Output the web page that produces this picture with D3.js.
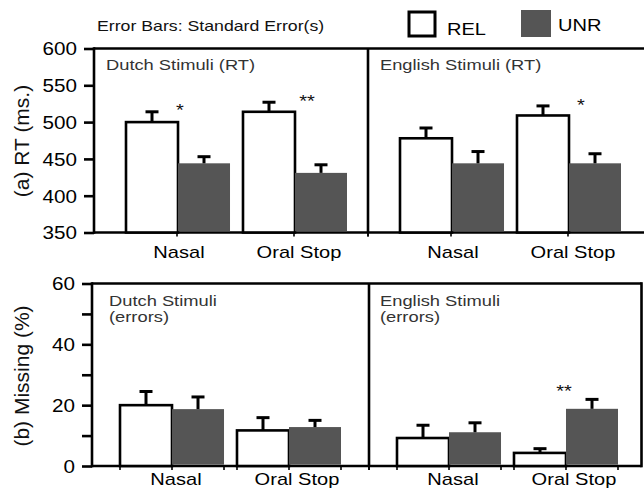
<!DOCTYPE html>
<html><head><meta charset="utf-8">
<script src="https://cdn.jsdelivr.net/npm/d3@7"></script>
<style>body{margin:0;background:#fff} svg{display:block} text{font-family:"Liberation Sans",Arial,Helvetica,sans-serif}</style>
</head><body><svg id="c" width="644" height="494"></svg>
<script>
// ---------- data ----------
const categories = ["Nasal", "Oral Stop"];
const conditions = ["REL", "UNR"];
const languages = ["Dutch", "English"];
const rtTicks = [350, 400, 450, 500, 550, 600];
const missTicks = [0, 10, 20, 30, 40, 50, 60];
const missLabelTicks = [0, 20, 40, 60];

const rtDutchREL = [500, 514],      rtDutchRELse = [14, 13];
const rtDutchUNR = [444, 431],      rtDutchUNRse = [9, 11];
const rtEnglishREL = [478, 509],    rtEnglishRELse = [14, 13];
const rtEnglishUNR = [444, 444],    rtEnglishUNRse = [16, 13];

const missDutchREL = [20, 11.7],    missDutchRELse = [4.5, 4.2];
const missDutchUNR = [18.7, 12.8],  missDutchUNRse = [4, 2.2];
const missEnglishREL = [9.2, 4.3],  missEnglishRELse = [4.2, 1.4];
const missEnglishUNR = [11.1, 18.8],missEnglishUNRse = [3.1, 3.1];

const sigLang  = ["Dutch", "Dutch", "English", "English"];
const sigRow   = ["rt", "rt", "rt", "miss"];
const sigCat   = ["Nasal", "Oral Stop", "Oral Stop", "Oral Stop"];
const sigLabel = ["*", "**", "*", "**"];

// ---------- layout ----------
const SX = 1.18;        // horizontal text stretch of the reference
const GREY = "#555";
const LW = 2.6;
const svg = d3.select("#c");

function stretch(sel, f) {
  const k = f || SX;
  sel.each(function () {
    const w = this.getComputedTextLength();
    this.setAttribute("textLength", w * k);
    this.setAttribute("lengthAdjust", "spacingAndGlyphs");
  });
  return sel;
}

const rows = {
  rt: {
    domain: [350, 600], yTop: 48.5, yBot: 232.5, left: 94, divider: 368, right: 650,
    barOff: 32, ticks: rtTicks, labelTicks: rtTicks, title: "(a) RT (ms.)", titleY: 141,
    panelTitles: ["Dutch Stimuli (RT)", "English Stimuli (RT)"], titleDx: [12, 12], titleY0: 70,
    titleSize: 15.5, titleLead: 15, titleSX: SX,
    catY: 258, catDx: [1, 4], sigGap: 5, frameRight: false, xTicks: "center",
    data: {
      Dutch:   {REL: [rtDutchREL, rtDutchRELse], UNR: [rtDutchUNR, rtDutchUNRse]},
      English: {REL: [rtEnglishREL, rtEnglishRELse], UNR: [rtEnglishUNR, rtEnglishUNRse]}
    }
  },
  miss: {
    domain: [0, 60], yTop: 283.5, yBot: 466, left: 92, divider: 369, right: 641.5,
    barOff: 28, ticks: missTicks, labelTicks: missLabelTicks, title: "(b) Missing (%)", titleY: 376,
    panelTitles: ["Dutch Stimuli\n(errors)", "English Stimuli\n(errors)"], titleDx: [17, 11], titleY0: 306,
    titleSize: 14.2, titleLead: 16.2, titleSX: 1.29,
    catY: 485, catDx: [4, 8], sigGap: 12, frameRight: true, xTicks: "edges",
    data: {
      Dutch:   {REL: [missDutchREL, missDutchRELse], UNR: [missDutchUNR, missDutchUNRse]},
      English: {REL: [missEnglishREL, missEnglishRELse], UNR: [missEnglishUNR, missEnglishUNRse]}
    }
  }
};
const sigDx = [2, 12, 12, -2];

Object.entries(rows).forEach(([key, R]) => {
  const y = d3.scaleLinear().domain(R.domain).range([R.yBot, R.yTop]);
  const g = svg.append("g");
  const panelLefts = [R.left, R.divider];

  // frame
  const fr = g.append("g").attr("stroke", "#000").attr("stroke-width", LW).attr("fill", "none");
  fr.append("line").attr("x1", R.left).attr("x2", R.right).attr("y1", R.yTop).attr("y2", R.yTop);
  fr.append("line").attr("x1", R.left).attr("x2", R.right).attr("y1", R.yBot).attr("y2", R.yBot);
  fr.append("line").attr("x1", R.divider).attr("x2", R.divider).attr("y1", R.yTop).attr("y2", R.yBot);
  if (R.frameRight) fr.append("line").attr("x1", R.right).attr("x2", R.right).attr("y1", R.yTop - LW/2).attr("y2", R.yBot + LW/2);

  // y axis
  const ax = g.append("g").attr("transform", `translate(${R.left},0)`)
    .call(d3.axisLeft(y).tickValues(R.ticks).tickSize(10).tickPadding(7)
      .tickFormat(d => R.labelTicks.includes(d) ? d : ""));
  ax.select(".domain").attr("stroke-width", LW).attr("d", `M0,${R.yTop - LW/2}V${R.yBot + LW/2}`);
  ax.selectAll(".tick line").attr("stroke-width", LW);
  ax.selectAll(".tick text").attr("font-size", 17.5).attr("fill", "#000")
    .attr("font-family", '"Liberation Sans",Arial,sans-serif').attr("dy", "0.36em");
  stretch(ax.selectAll(".tick text"));

  // y title
  g.append("text").attr("transform", `translate(29,${R.titleY}) rotate(-90)`)
    .attr("text-anchor", "middle").attr("font-size", 21).attr("fill", "#111").text(R.title);

  languages.forEach((lang, li) => {
    const pl = panelLefts[li];
    const x = d3.scaleBand().domain(categories).range([pl + R.barOff, pl + R.barOff + 221]).paddingInner(0.111);
    const xc = d3.scaleBand().domain(conditions).range([0, x.bandwidth()]);
    const D = R.data[lang];

    // x ticks
    const tg = g.append("g").attr("stroke", "#000").attr("stroke-width", 1.6);
    categories.forEach(c => {
      const xs = R.xTicks === "center" ? [x(c) + x.bandwidth()/2 - 1]
        : [x(c), x(c) + x.bandwidth()/2, x(c) + x.bandwidth()];
      xs.forEach(xx => tg.append("line").attr("x1", xx).attr("x2", xx).attr("y1", R.yBot).attr("y2", R.yBot + 4));
    });
    tg.append("line").attr("x1", R.divider).attr("x2", R.divider).attr("y1", R.yBot).attr("y2", R.yBot + 4);

    // bars
    categories.forEach((c, ci) => {
      conditions.forEach(cond => {
        const v = D[cond][0][ci];
        const bx = x(c) + xc(cond);
        if (cond === "REL") {
          g.append("rect").attr("x", bx).attr("y", y(v)).attr("width", xc.bandwidth()).attr("height", R.yBot - y(v))
            .attr("fill", "#fff").attr("stroke", "#000").attr("stroke-width", LW);
        } else {
          g.append("rect").attr("x", bx).attr("y", y(v)).attr("width", xc.bandwidth()).attr("height", R.yBot - y(v) - LW/2)
            .attr("fill", GREY);
        }
      });
      // error bars
      conditions.forEach(cond => {
        const v = D[cond][0][ci], se = D[cond][1][ci];
        const cx = x(c) + xc(cond) + xc.bandwidth()/2;
        const eg = g.append("g").attr("stroke", "#000").attr("stroke-width", 3);
        eg.append("line").attr("x1", cx).attr("x2", cx).attr("y1", y(v)).attr("y2", y(v + se));
        eg.append("line").attr("x1", cx - 6.5).attr("x2", cx + 6.5).attr("y1", y(v + se)).attr("y2", y(v + se));
      });
      // category label
      stretch(g.append("text").attr("x", x(c) + x.bandwidth()/2 + R.catDx[ci]).attr("y", R.catY)
        .attr("text-anchor", "middle").attr("font-size", 17).attr("fill", "#000").text(c));
    });

    // panel title
    const lines = R.panelTitles[li].split("\n");
    lines.forEach((t, k) => {
      stretch(g.append("text").attr("x", pl + R.titleDx[li]).attr("y", R.titleY0 + k * R.titleLead)
        .attr("font-size", R.titleSize).attr("fill", "#333").text(t), R.titleSX);
    });

    // significance
    sigLabel.forEach((s, si) => {
      if (sigLang[si] !== lang || sigRow[si] !== key) return;
      const c = sigCat[si], ci = categories.indexOf(c);
      const top = d3.max(conditions, cond => D[cond][0][ci] + D[cond][1][ci]);
      const cy = y(top) - R.sigGap;
      stretch(g.append("text").attr("x", x(c) + x.bandwidth()/2 + sigDx[si]).attr("y", cy + 9.7)
        .attr("text-anchor", "middle").attr("font-size", 17).attr("fill", "#111").text(s));
    });
  });
});

// ---------- legend ----------
const lg = svg.append("g");
stretch(lg.append("text").attr("x", 97).attr("y", 31).attr("font-size", 15).attr("fill", "#111").text("Error Bars: Standard Error(s)"));
lg.append("rect").attr("x", 409).attr("y", 12).attr("width", 26).attr("height", 24)
  .attr("fill", "#fff").attr("stroke", "#000").attr("stroke-width", 3);
stretch(lg.append("text").attr("x", 447).attr("y", 35).attr("font-size", 17).attr("fill", "#000").text(conditions[0]));
lg.append("rect").attr("x", 521).attr("y", 10).attr("width", 30).attr("height", 27).attr("fill", GREY);
stretch(lg.append("text").attr("x", 558).attr("y", 31).attr("font-size", 17).attr("fill", "#000").text(conditions[1]));
</script></body></html>
